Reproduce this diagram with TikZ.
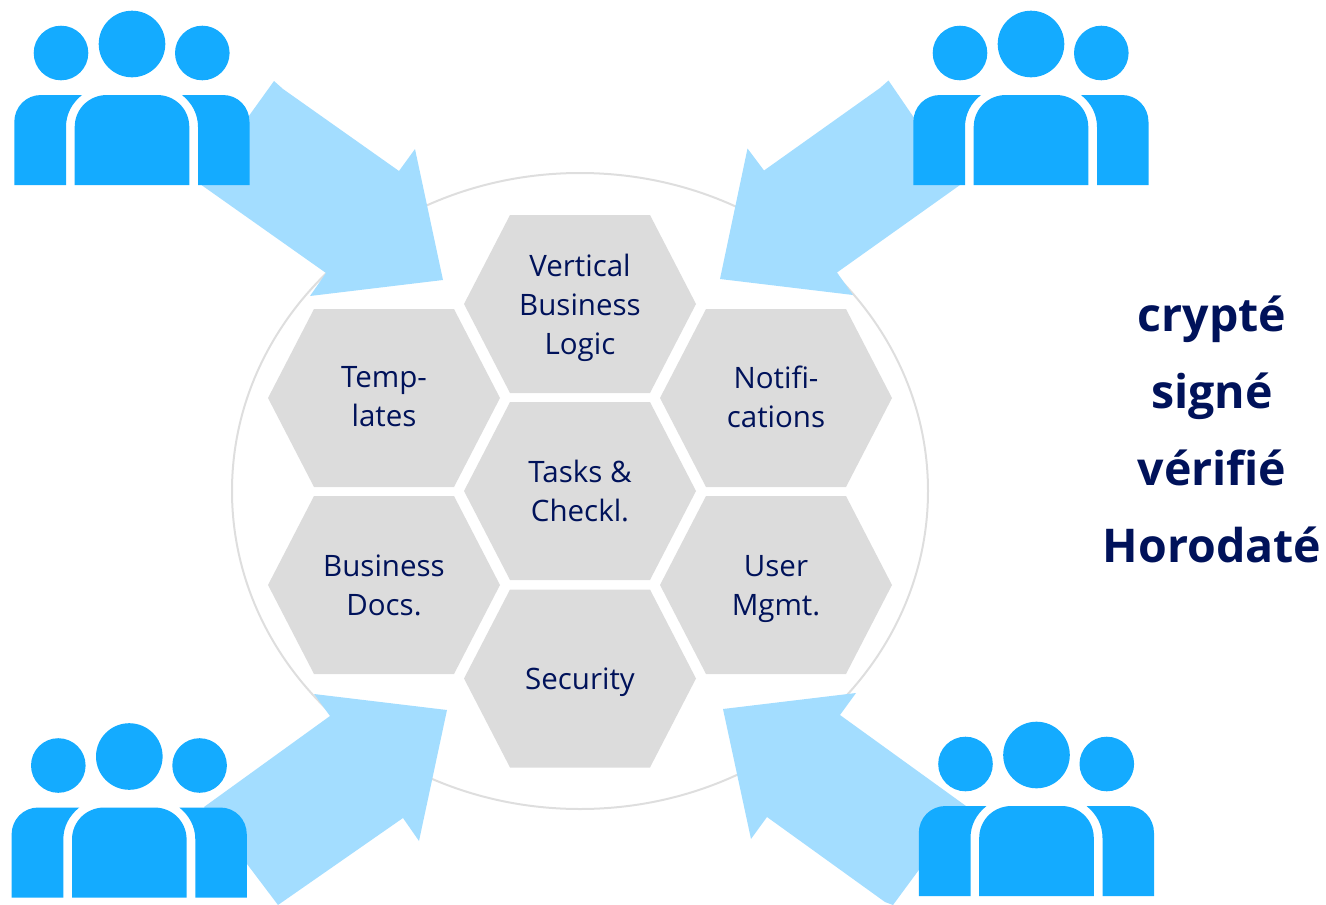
\documentclass[tikz,border=0pt]{standalone}
\usepackage{fontspec}
\setmainfont{Open Sans}
\definecolor{navy}{HTML}{00125A}
\definecolor{hexgray}{HTML}{DCDCDC}
\definecolor{ringgray}{HTML}{DEDEDE}
\definecolor{arrowblue}{HTML}{A3DDFF}
\definecolor{peopleblue}{HTML}{14ABFF}
\tikzset{
  hexcell/.pic={
    \fill[hexgray] (-116,0) -- (-70,-89) -- (70,-89) -- (116,0) -- (70,89) -- (-70,89) -- cycle;
  },
  hexlabel/.style={text=navy,align=center,font=\fontsize{29.5}{39}\selectfont,inner sep=0pt},
  sidelabel/.style={text=navy,font=\fontsize{46.5}{56}\selectfont\bfseries,inner sep=0pt},
  arrowshape/.style={fill=arrowblue,draw=none},
  peoplegroup/.pic={
    \fill[peopleblue] (61,53) circle[radius=27.3];
    \fill[peopleblue] (132,44) circle[radius=33.3];
    \fill[peopleblue] (202.3,53) circle[radius=27.3];
    \fill[peopleblue] (14.3,185) -- (14.3,122) .. controls (14.3,107) and (26,95) .. (41,95) -- (82,95)
       .. controls (72,103) and (66,114) .. (66,127) -- (66,185) -- cycle;
    \fill[peopleblue] (74.7,185) -- (74.7,127) .. controls (74.7,109) and (89,95) .. (107,95) -- (157,95)
       .. controls (175,95) and (189.3,109) .. (189.3,127) -- (189.3,185) -- cycle;
    \fill[peopleblue] (249.5,185) -- (249.5,122) .. controls (249.5,107) and (238,95) .. (223,95) -- (182,95)
       .. controls (192,103) and (198,114) .. (198,127) -- (198,185) -- cycle;
  }
}
\begin{document}
\begin{tikzpicture}[x=1pt,y=-1pt]
\useasboundingbox (0,0) rectangle (1326,905);
\clip (0,0) rectangle (1326,905);
\draw[ringgray,line width=2pt] (580,491) ellipse[x radius=348,y radius=318];
\pic at (580,304) {hexcell};
\pic at (384,398) {hexcell};
\pic at (776,398) {hexcell};
\pic at (580,491) {hexcell};
\pic at (384,585) {hexcell};
\pic at (776,585) {hexcell};
\pic at (580,678.5) {hexcell};
\node[hexlabel] (logic) at (580,308) {Vertical\\Business\\Logic};
\node[hexlabel] (templates) at (384,397) {Temp-\\lates};
\node[hexlabel] (notif) at (776,397) {Notifi-\\cations};
\node[hexlabel] (tasks) at (580,491) {Tasks \&\\Checkl.};
\node[hexlabel] (docs) at (384,585) {Business\\Docs.};
\node[hexlabel] (user) at (776,589) {User\\Mgmt.};
\node[hexlabel] (security) at (580,682) {Security};
\fill[arrowshape] (274,81) -- (283,89) -- (399,171) -- (415,149) -- (443,280) -- (310,296) -- (326,273) -- (200,184) -- cycle;
\fill[arrowshape] (888.5,80.5) -- (880,88) -- (764,170.5) -- (747.5,148.5) -- (720,279) -- (853,295) -- (837,272.5) -- (960,185) -- cycle;
\fill[arrowshape] (314,694) -- (447,710) -- (419,841) -- (403,818) -- (278,905) -- (204,807) -- (330,716) -- cycle;
\fill[arrowshape] (723,709) -- (856,693) -- (840,715) -- (966,806) -- (893,905) -- (885,902) -- (767,817) -- (751,839) -- cycle;
\pic at (0,0) {peoplegroup};
\pic at (899,0) {peoplegroup};
\pic at (-2.7,712.5) {peoplegroup};
\pic at (904.5,711) {peoplegroup};
\node[sidelabel] (a) at (1212,319) {crypté};
\node[sidelabel] (b) at (1212,396) {signé};
\node[sidelabel] (c) at (1212,468) {vérifié};
\node[sidelabel] (d) at (1212,545) {Horodaté};
\end{tikzpicture}
\end{document}
